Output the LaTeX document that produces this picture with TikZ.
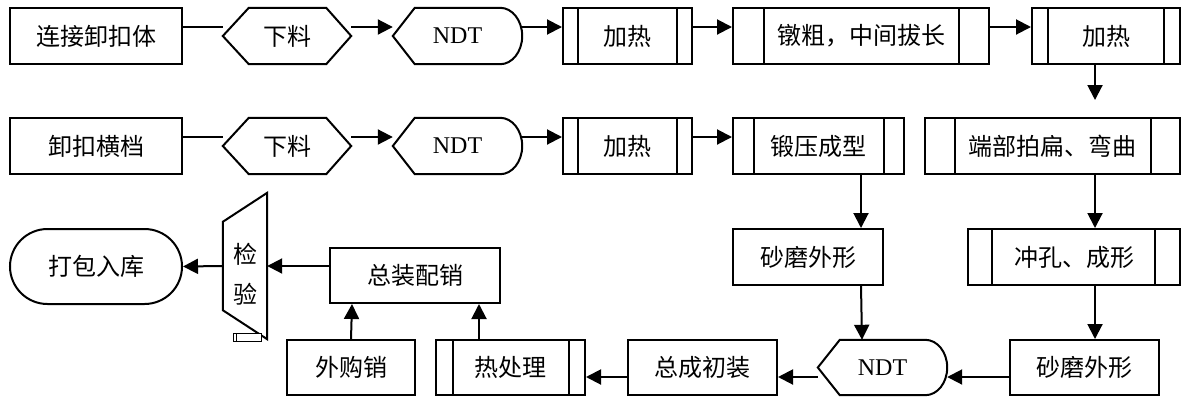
\documentclass[tikz,border=0pt]{standalone}
\usepackage{fontspec}
\setmainfont{Liberation Serif}
\newfontfamily\cjk{Noto Sans CJK SC}
\usetikzlibrary{arrows.meta}
\newcommand\hexout[1]{\draw[shp] (#1.west) -- ([xshift=26pt]#1.north west) -- ([xshift=-25pt]#1.north east) -- (#1.east) -- ([xshift=-25pt]#1.south east) -- ([xshift=26pt]#1.south west) -- cycle;}
\newcommand\ndtout[1]{\draw[shp] (#1.west) -- ([xshift=22pt]#1.north west) -- ([xshift=-22pt]#1.north east) .. controls ([xshift=-9.85pt]#1.north east) and ([yshift=15.5pt]#1.east) .. (#1.east) .. controls ([yshift=-15.5pt]#1.east) and ([xshift=-9.85pt]#1.south east) .. ([xshift=-22pt]#1.south east) -- ([xshift=22pt]#1.south west) -- cycle;}
\newcommand\procout[3]{\draw[shp] ([xshift=#2pt]#1.north west) -- ([xshift=#2pt]#1.south west); \draw[shp] ([xshift=-#3pt]#1.north east) -- ([xshift=-#3pt]#1.south east);}
\begin{document}
\begin{tikzpicture}[x=1pt,y=-1pt,
  shp/.style={line width=2pt, line join=miter},
  box/.style={inner sep=0pt, font=\cjk\fontsize{24}{27}\selectfont},
  rbox/.style={box, draw, shp},
  lat/.style={inner sep=0pt, font=\fontsize{24}{27}\selectfont},
  arr/.style={line width=2pt, -{Triangle[length=15pt,width=15pt]}},
  ln/.style={line width=2pt}]
\useasboundingbox (0,0) rectangle (1182,397);

% row 1
\node[rbox, minimum width=172pt, minimum height=56pt] (a1) at (96,36) {连接卸扣体};
\node[box, minimum width=128pt, minimum height=56pt] (a2) at (287,36) {下料};
\node[lat, minimum width=129pt, minimum height=56pt] (a3) at (457.5,36) {NDT};
\node[rbox, minimum width=129pt, minimum height=56pt] (a4) at (627.5,36) {加热};
\node[rbox, minimum width=256pt, minimum height=56pt] (a5) at (861,36) {镦粗，中间拔长};
\node[rbox, minimum width=148pt, minimum height=56pt] (a6) at (1106,36) {加热};
\hexout{a2}
\ndtout{a3}
\procout{a4}{16}{16}
\procout{a5}{32}{31}
\procout{a6}{17}{17}

% row 2
\node[rbox, minimum width=172pt, minimum height=56pt] (b1) at (96,146) {卸扣横档};
\node[box, minimum width=128pt, minimum height=56pt] (b2) at (287,146) {下料};
\node[lat, minimum width=129pt, minimum height=56pt] (b3) at (457.5,146) {NDT};
\node[rbox, minimum width=129pt, minimum height=56pt] (b4) at (627.5,146) {加热};
\node[rbox, minimum width=171pt, minimum height=56pt] (b5) at (818.5,146) {锻压成型};
\node[rbox, minimum width=255pt, minimum height=56pt] (b6) at (1052.5,146) {端部拍扁、弯曲};
\hexout{b2}
\ndtout{b3}
\procout{b4}{16}{16}
\procout{b5}{22}{21}
\procout{b6}{31}{30}

% row 3
\node[rbox, minimum width=150pt, minimum height=56pt] (c1) at (808,257) {砂磨外形};
\node[rbox, minimum width=212pt, minimum height=56pt] (c2) at (1074,257) {冲孔、成形};
\procout{c2}{25}{26}
\node[rbox, minimum width=170pt, minimum height=55pt] (f1) at (415,275.5) {总装配销};
\node[box, minimum width=44pt, minimum height=146pt] (jy) at (245,266) {};
\draw[shp] ([yshift=-29pt]jy.north west) -- (jy.north east) -- (jy.south east) -- ([yshift=29pt]jy.south west) -- cycle;
\node[box, align=center, font=\cjk\fontsize{24}{40}\selectfont] (jyt) at ([yshift=-8pt]jy.center) {检\\验};
\draw[line width=0.6pt, fill=white] (233,333) rectangle (261,341);
\draw[line width=0.6pt] (236,333) -- (236,341);
\node[rbox, rounded corners=37.5pt, minimum width=172pt, minimum height=75pt] (d1) at (96,266.5) {打包入库};

% row 4
\node[rbox, minimum width=149pt, minimum height=55pt] (e1) at (1084.5,367.5) {砂磨外形};
\node[lat, minimum width=129pt, minimum height=55pt] (e2) at (882.5,367.5) {NDT};
\ndtout{e2}
\node[rbox, minimum width=149pt, minimum height=55pt] (e3) at (702.5,367.5) {总成初装};
\node[rbox, minimum width=149pt, minimum height=55pt] (e4) at (510.5,367.5) {热处理};
\procout{e4}{18}{17}
\node[rbox, minimum width=128pt, minimum height=55pt] (e5) at (351,367.5) {外购销};

% connectors
\draw[ln] ([yshift=9pt]a1.east) -- ([yshift=9pt]a2.west);
\draw[arr] ([yshift=9pt]a2.east) -- ([yshift=9pt]a3.west);
\draw[arr] ([yshift=9pt]a3.east) -- ([yshift=9pt]a4.west);
\draw[arr] ([yshift=9pt]a4.east) -- ([yshift=9pt]a5.west);
\draw[arr] ([yshift=9pt]a5.east) -- ([yshift=9pt]a6.west);
\coordinate (t1) at (1095,100);
\draw[arr] ([xshift=-11pt]a6.south) -- (t1);

\draw[ln] ([yshift=9pt]b1.east) -- ([yshift=9pt]b2.west);
\draw[arr] ([yshift=9pt]b2.east) -- ([yshift=9pt]b3.west);
\draw[arr] ([yshift=9pt]b3.east) -- ([yshift=9pt]b4.west);
\draw[arr] ([yshift=9pt]b4.east) -- ([yshift=9pt]b5.west);

\draw[arr] ([xshift=42.5pt]b5.south) -- ([xshift=53pt]c1.north);
\draw[arr] ([xshift=53pt]c1.south) -- ([xshift=-20.5pt]e2.north);
\draw[arr] ([xshift=42.5pt]b6.south) -- ([xshift=21pt]c2.north);
\draw[arr] ([xshift=21pt]c2.south) -- ([xshift=10.5pt]e1.north);

\draw[arr] ([yshift=-9.5pt]e1.west) -- ([yshift=-9.5pt]e2.east);
\draw[arr] ([yshift=-9.5pt]e2.west) -- ([yshift=-9.5pt]e3.east);
\draw[arr] ([yshift=-9.5pt]e3.west) -- ([yshift=-9.5pt]e4.east);
\draw[arr] ([xshift=-31.5pt]e4.north) -- ([xshift=64pt]f1.south);
\draw[arr] (e5.north) -- ([xshift=-63pt]f1.south);
\draw[arr] ([yshift=9.5pt]f1.west) -- (jy.east);
\draw[arr] (jy.west) -- (d1.east);
\end{tikzpicture}
\end{document}
